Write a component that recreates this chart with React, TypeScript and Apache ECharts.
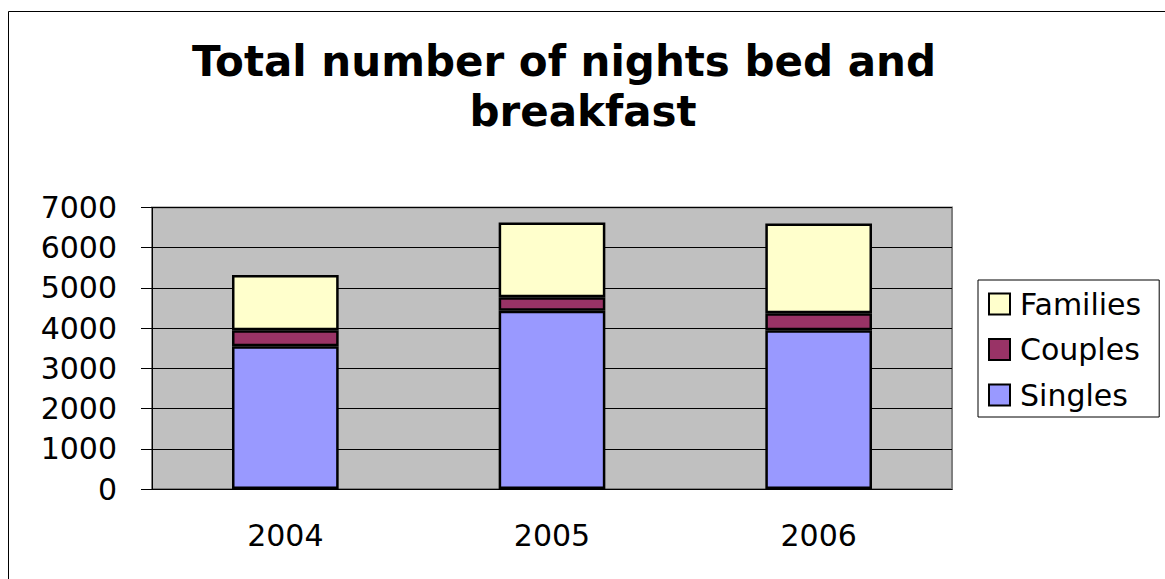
import React, { useEffect, useRef } from "react";
import * as echarts from "echarts";

const titleLines = ["Total number of nights bed and", "breakfast"];
const years = ["2004", "2005", "2006"];
const singles = [3550, 4430, 3950];
const couples = [400, 340, 420];
const families = [1370, 1860, 2230];
const legendOrder = ["Families", "Couples", "Singles"];
const yTicks = { min: 0, max: 7000, interval: 1000 };

const FONT = "'DejaVu Sans', Verdana, sans-serif";

export default function App() {
  const ref = useRef<HTMLDivElement>(null);
  useEffect(() => {
    if (!ref.current) return;
    const chart = echarts.init(ref.current, null, { renderer: "svg" });
    const barStyle = (color: string) => ({
      color,
      borderColor: "#000",
      borderWidth: 2.5,
    });
    chart.setOption({
      animation: false,
      backgroundColor: "#fff",
      graphic: [
        { type: "line", shape: { x1: 8.5, y1: 11.5, x2: 8.5, y2: 579 }, style: { stroke: "#000", lineWidth: 1 } },
        { type: "line", shape: { x1: 8.5, y1: 11.5, x2: 1165, y2: 11.5 }, style: { stroke: "#000", lineWidth: 1 } },
        {
          type: "text", x: 564, y: 40,
          style: { text: titleLines[0], fontFamily: FONT, fontWeight: "bold", fontSize: 42, fill: "#000", align: "center", verticalAlign: "top" },
        },
        {
          type: "text", x: 583, y: 90,
          style: { text: titleLines[1], fontFamily: FONT, fontWeight: "bold", fontSize: 42, fill: "#000", align: "center", verticalAlign: "top" },
        },
      ],
      legend: {
        data: legendOrder,
        orient: "vertical",
        left: 978,
        top: 280,
        padding: [9, 18, 7, 10],
        itemWidth: 21,
        itemHeight: 21,
        itemGap: 15.5,
        icon: "rect",
        backgroundColor: "#fff",
        borderColor: "#000",
        borderWidth: 1,
        textStyle: { fontFamily: FONT, fontSize: 30, color: "#000", padding: [0, 0, 0, 5] },
      },
      grid: {
        left: 152,
        top: 207.5,
        right: 213,
        bottom: 90,
        show: true,
        backgroundColor: "#C0C0C0",
        borderColor: "#808080",
        borderWidth: 2,
      },
      xAxis: {
        type: "category",
        data: years,
        axisLine: { lineStyle: { color: "#000", width: 1 } },
        axisTick: { length: 11, lineStyle: { color: "#000" } },
        axisLabel: { fontFamily: FONT, fontSize: 30, color: "#000", margin: 31 },
      },
      yAxis: {
        type: "value",
        min: yTicks.min,
        max: yTicks.max,
        interval: yTicks.interval,
        axisLine: { show: true, lineStyle: { color: "#000", width: 1 } },
        axisTick: { show: true, length: 11, lineStyle: { color: "#000" } },
        axisLabel: { fontFamily: FONT, fontSize: 30, color: "#000", margin: 35, formatter: (v: number) => String(v) },
        splitLine: { lineStyle: { color: "#000", width: 1 } },
      },
      series: [
        { name: "Singles", type: "bar", stack: "total", data: singles, barCategoryGap: "60%", itemStyle: barStyle("#9999FF") },
        { name: "Couples", type: "bar", stack: "total", data: couples, itemStyle: barStyle("#993366") },
        { name: "Families", type: "bar", stack: "total", data: families, itemStyle: barStyle("#FFFFCC") },
      ],
    });
    return () => chart.dispose();
  }, []);
  return (
    <div
      ref={ref}
      style={{ position: "fixed", left: 0, top: 0, width: 1165, height: 579 }}
    />
  );
}
